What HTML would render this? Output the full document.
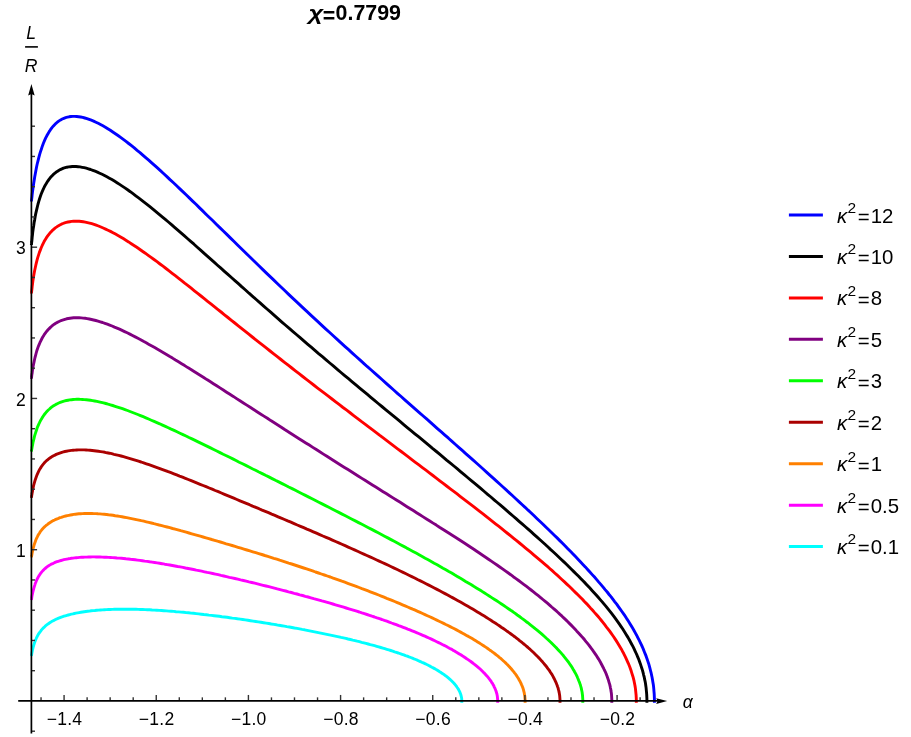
<!DOCTYPE html>
<html><head><meta charset="utf-8"><title>plot</title>
<style>
html,body{margin:0;padding:0;background:#fff;}
body{width:911px;height:737px;overflow:hidden;font-family:"Liberation Sans",sans-serif;}
svg{display:block;will-change:transform}
text{font-family:"Liberation Sans",sans-serif;fill:#000}
.tk{font-size:17.5px;letter-spacing:0.25px}
.lg{font-size:20.4px}
.it{font-style:italic}
</style></head><body>
<svg width="911" height="737" viewBox="0 0 911 737">
<rect width="911" height="737" fill="#fff"/>

<g fill="none" stroke-width="2.9" stroke-linecap="butt" stroke-linejoin="round">
<path d="M31.4,655.8 31.4,655.7 31.5,655.4 31.5,654.9 31.7,654.3 31.8,653.5 32.0,652.5 32.2,651.5 32.4,650.4 32.7,649.2 33.0,647.9 33.3,646.7 33.7,645.4 34.1,644.1 34.5,642.8 35.0,641.5 35.4,640.3 36.0,639.0 36.5,637.8 37.1,636.6 37.7,635.5 38.3,634.4 39.0,633.3 39.7,632.3 40.5,631.3 41.2,630.3 42.0,629.4 42.8,628.5 43.7,627.6 44.6,626.8 45.5,625.9 46.4,625.2 47.4,624.4 48.4,623.7 49.4,623.0 50.5,622.3 51.6,621.6 52.7,621.0 53.9,620.4 55.0,619.8 56.2,619.2 57.5,618.7 58.7,618.2 60.0,617.7 61.3,617.2 62.7,616.7 64.0,616.2 65.4,615.8 66.9,615.4 68.3,615.0 69.8,614.6 71.3,614.2 72.8,613.9 74.4,613.5 75.9,613.2 77.5,612.9 79.2,612.6 80.8,612.3 82.5,612.0 84.2,611.7 85.9,611.5 87.7,611.3 89.4,611.1 91.2,610.8 93.1,610.6 94.9,610.5 96.8,610.3 98.6,610.1 100.5,610.0 102.5,609.9 104.4,609.7 106.4,609.6 108.4,609.5 110.4,609.5 112.4,609.4 114.5,609.3 116.5,609.3 118.6,609.2 120.7,609.2 122.9,609.2 125.0,609.2 127.2,609.2 129.4,609.2 131.6,609.2 133.8,609.3 136.0,609.3 138.2,609.4 140.5,609.5 142.8,609.5 145.1,609.6 147.4,609.7 149.7,609.8 152.1,610.0 154.4,610.1 156.8,610.2 159.2,610.4 161.5,610.5 163.9,610.7 166.4,610.9 168.8,611.1 171.2,611.2 173.7,611.4 176.1,611.7 178.6,611.9 181.1,612.1 183.6,612.3 186.1,612.6 188.6,612.8 191.1,613.1 193.6,613.3 196.2,613.6 198.7,613.9 201.3,614.2 203.8,614.5 206.4,614.7 208.9,615.1 211.5,615.4 214.1,615.7 216.7,616.0 219.3,616.3 221.9,616.7 224.5,617.0 227.1,617.3 229.7,617.7 232.3,618.1 234.9,618.4 237.5,618.8 240.1,619.1 242.7,619.5 245.3,619.9 247.9,620.3 250.5,620.7 253.1,621.1 255.7,621.5 258.3,621.9 260.9,622.3 263.6,622.7 266.2,623.1 268.8,623.5 271.3,624.0 273.9,624.4 276.5,624.8 279.1,625.3 281.7,625.7 284.3,626.1 286.8,626.6 289.4,627.0 291.9,627.5 294.5,628.0 297.0,628.4 299.6,628.9 302.1,629.4 304.6,629.8 307.1,630.3 309.6,630.8 312.1,631.3 314.6,631.8 317.1,632.3 319.5,632.8 322.0,633.3 324.4,633.8 326.8,634.3 329.3,634.8 331.7,635.3 334.1,635.8 336.4,636.3 338.8,636.8 341.1,637.4 343.5,637.9 345.8,638.4 348.1,639.0 350.4,639.5 352.7,640.1 355.0,640.6 357.2,641.2 359.4,641.7 361.6,642.3 363.8,642.8 366.0,643.4 368.2,644.0 370.3,644.6 372.5,645.1 374.6,645.7 376.7,646.3 378.7,646.9 380.8,647.5 382.8,648.1 384.8,648.7 386.8,649.3 388.8,649.9 390.7,650.5 392.7,651.1 394.6,651.8 396.4,652.4 398.3,653.0 400.2,653.7 402.0,654.3 403.8,654.9 405.5,655.6 407.3,656.2 409.0,656.9 410.7,657.5 412.4,658.2 414.0,658.9 415.7,659.5 417.3,660.2 418.8,660.9 420.4,661.6 421.9,662.3 423.4,662.9 424.9,663.6 426.3,664.3 427.8,665.0 429.2,665.7 430.5,666.4 431.9,667.2 433.2,667.9 434.5,668.6 435.7,669.3 437.0,670.0 438.2,670.8 439.3,671.5 440.5,672.2 441.6,673.0 442.7,673.7 443.8,674.4 444.8,675.2 445.8,675.9 446.8,676.7 447.7,677.4 448.6,678.2 449.5,679.0 450.4,679.7 451.2,680.5 452.0,681.3 452.7,682.0 453.5,682.8 454.2,683.6 454.9,684.3 455.5,685.1 456.1,685.9 456.7,686.7 457.2,687.5 457.8,688.3 458.3,689.0 458.7,689.8 459.1,690.6 459.5,691.4 459.9,692.2 460.2,693.0 460.5,693.8 460.8,694.6 461.0,695.4 461.2,696.2 461.4,697.0 461.6,697.8 461.7,698.6 461.7,699.4 461.8,700.2 461.8,701.0 461.8,702.8" stroke="#00ffff"/>
<path d="M31.4,599.8 31.4,599.7 31.5,599.4 31.6,598.8 31.7,598.1 31.8,597.2 32.0,596.1 32.2,595.0 32.5,593.7 32.8,592.3 33.1,590.9 33.5,589.5 33.9,588.0 34.3,586.6 34.8,585.1 35.2,583.7 35.8,582.3 36.3,580.9 36.9,579.6 37.6,578.3 38.2,577.1 38.9,575.9 39.7,574.7 40.4,573.6 41.2,572.6 42.0,571.6 42.9,570.6 43.8,569.7 44.7,568.8 45.7,568.0 46.7,567.2 47.7,566.4 48.7,565.7 49.8,565.1 50.9,564.4 52.1,563.8 53.3,563.3 54.5,562.7 55.7,562.2 57.0,561.7 58.3,561.3 59.6,560.9 61.0,560.5 62.4,560.1 63.8,559.7 65.3,559.4 66.8,559.1 68.3,558.8 69.8,558.6 71.4,558.3 73.0,558.1 74.6,557.9 76.3,557.7 77.9,557.6 79.7,557.4 81.4,557.3 83.2,557.2 84.9,557.1 86.8,557.1 88.6,557.0 90.5,557.0 92.4,556.9 94.3,556.9 96.2,557.0 98.2,557.0 100.2,557.0 102.2,557.1 104.2,557.2 106.3,557.3 108.4,557.4 110.5,557.5 112.6,557.6 114.8,557.8 117.0,558.0 119.2,558.1 121.4,558.3 123.6,558.5 125.9,558.8 128.2,559.0 130.5,559.3 132.8,559.5 135.2,559.8 137.5,560.1 139.9,560.4 142.3,560.7 144.7,561.1 147.2,561.4 149.6,561.8 152.1,562.1 154.6,562.5 157.1,562.9 159.6,563.3 162.1,563.7 164.7,564.2 167.2,564.6 169.8,565.0 172.4,565.5 175.0,566.0 177.6,566.5 180.2,566.9 182.9,567.4 185.5,568.0 188.2,568.5 190.9,569.0 193.6,569.5 196.3,570.1 199.0,570.6 201.7,571.2 204.4,571.8 207.2,572.4 209.9,572.9 212.7,573.5 215.4,574.1 218.2,574.7 221.0,575.4 223.8,576.0 226.5,576.6 229.3,577.3 232.1,577.9 234.9,578.5 237.7,579.2 240.6,579.9 243.4,580.5 246.2,581.2 249.0,581.9 251.8,582.5 254.7,583.2 257.5,583.9 260.3,584.6 263.1,585.3 266.0,586.0 268.8,586.7 271.6,587.4 274.4,588.1 277.3,588.9 280.1,589.6 282.9,590.3 285.7,591.0 288.5,591.8 291.4,592.5 294.2,593.3 297.0,594.0 299.8,594.8 302.6,595.5 305.3,596.3 308.1,597.0 310.9,597.8 313.7,598.6 316.4,599.3 319.2,600.1 321.9,600.9 324.7,601.6 327.4,602.4 330.1,603.2 332.8,604.0 335.5,604.8 338.2,605.6 340.9,606.4 343.6,607.2 346.2,608.0 348.9,608.8 351.5,609.6 354.1,610.4 356.7,611.2 359.3,612.0 361.9,612.9 364.4,613.7 367.0,614.5 369.5,615.3 372.0,616.2 374.5,617.0 377.0,617.9 379.5,618.7 381.9,619.5 384.4,620.4 386.8,621.2 389.2,622.1 391.6,623.0 393.9,623.8 396.3,624.7 398.6,625.6 400.9,626.4 403.2,627.3 405.5,628.2 407.7,629.1 409.9,629.9 412.1,630.8 414.3,631.7 416.5,632.6 418.6,633.5 420.7,634.4 422.8,635.3 424.9,636.2 426.9,637.1 428.9,638.0 430.9,638.9 432.9,639.9 434.8,640.8 436.7,641.7 438.6,642.6 440.5,643.5 442.3,644.5 444.2,645.4 446.0,646.3 447.7,647.3 449.4,648.2 451.2,649.1 452.8,650.1 454.5,651.0 456.1,652.0 457.7,652.9 459.3,653.9 460.8,654.8 462.3,655.8 463.8,656.7 465.3,657.7 466.7,658.7 468.1,659.6 469.5,660.6 470.8,661.5 472.1,662.5 473.4,663.5 474.6,664.5 475.8,665.4 477.0,666.4 478.2,667.4 479.3,668.3 480.4,669.3 481.4,670.3 482.4,671.3 483.4,672.3 484.4,673.2 485.3,674.2 486.2,675.2 487.1,676.2 487.9,677.2 488.7,678.2 489.4,679.1 490.2,680.1 490.9,681.1 491.5,682.1 492.2,683.1 492.8,684.1 493.3,685.1 493.9,686.1 494.3,687.1 494.8,688.0 495.2,689.0 495.6,690.0 496.0,691.0 496.3,692.0 496.6,693.0 496.9,694.0 497.1,695.0 497.3,696.0 497.4,697.0 497.5,698.0 497.6,699.0 497.7,700.0 497.7,701.0 497.7,702.8" stroke="#ff00ff"/>
<path d="M31.4,557.3 31.4,557.2 31.5,556.8 31.6,556.3 31.7,555.5 31.9,554.6 32.1,553.5 32.3,552.3 32.6,551.0 32.9,549.6 33.2,548.2 33.6,546.8 34.0,545.3 34.5,543.8 35.0,542.4 35.5,541.0 36.0,539.6 36.6,538.2 37.3,536.9 37.9,535.6 38.6,534.4 39.4,533.2 40.1,532.0 40.9,530.9 41.8,529.8 42.7,528.8 43.6,527.8 44.5,526.9 45.5,526.0 46.5,525.1 47.6,524.3 48.6,523.5 49.8,522.7 50.9,522.0 52.1,521.3 53.3,520.6 54.6,520.0 55.8,519.4 57.2,518.8 58.5,518.3 59.9,517.7 61.3,517.3 62.7,516.8 64.2,516.4 65.7,516.0 67.3,515.6 68.8,515.3 70.4,515.0 72.1,514.7 73.7,514.4 75.4,514.2 77.1,514.0 78.9,513.8 80.7,513.7 82.5,513.6 84.3,513.5 86.2,513.5 88.1,513.4 90.0,513.5 92.0,513.5 93.9,513.6 95.9,513.6 98.0,513.8 100.0,513.9 102.1,514.1 104.2,514.3 106.4,514.5 108.5,514.8 110.7,515.0 112.9,515.3 115.2,515.7 117.4,516.0 119.7,516.4 122.0,516.8 124.3,517.2 126.7,517.6 129.1,518.1 131.5,518.6 133.9,519.1 136.3,519.6 138.8,520.1 141.3,520.7 143.8,521.2 146.3,521.8 148.8,522.4 151.4,523.0 154.0,523.7 156.6,524.3 159.2,525.0 161.8,525.6 164.5,526.3 167.1,527.0 169.8,527.7 172.5,528.5 175.2,529.2 177.9,529.9 180.7,530.7 183.4,531.4 186.2,532.2 189.0,533.0 191.8,533.8 194.6,534.6 197.4,535.4 200.3,536.2 203.1,537.0 206.0,537.8 208.8,538.6 211.7,539.5 214.6,540.3 217.5,541.2 220.4,542.0 223.3,542.9 226.2,543.8 229.2,544.6 232.1,545.5 235.1,546.4 238.0,547.3 241.0,548.2 243.9,549.1 246.9,550.0 249.9,550.9 252.8,551.8 255.8,552.7 258.8,553.6 261.8,554.5 264.8,555.5 267.8,556.4 270.8,557.3 273.8,558.3 276.8,559.2 279.7,560.2 282.7,561.1 285.7,562.1 288.7,563.1 291.7,564.0 294.7,565.0 297.7,566.0 300.7,567.0 303.7,568.0 306.6,568.9 309.6,569.9 312.6,570.9 315.5,572.0 318.5,573.0 321.4,574.0 324.4,575.0 327.3,576.0 330.3,577.0 333.2,578.1 336.1,579.1 339.0,580.1 341.9,581.2 344.8,582.2 347.7,583.3 350.5,584.3 353.4,585.4 356.2,586.4 359.1,587.5 361.9,588.6 364.7,589.6 367.5,590.7 370.3,591.8 373.1,592.9 375.8,593.9 378.6,595.0 381.3,596.1 384.0,597.2 386.7,598.3 389.4,599.3 392.0,600.4 394.7,601.5 397.3,602.6 399.9,603.7 402.5,604.8 405.1,605.9 407.7,607.0 410.2,608.1 412.7,609.2 415.2,610.2 417.7,611.3 420.2,612.4 422.6,613.5 425.0,614.6 427.4,615.7 429.8,616.8 432.2,617.9 434.5,619.0 436.8,620.1 439.1,621.2 441.3,622.3 443.6,623.4 445.8,624.5 448.0,625.5 450.1,626.6 452.3,627.7 454.4,628.8 456.5,629.9 458.5,631.0 460.6,632.1 462.6,633.2 464.5,634.3 466.5,635.4 468.4,636.4 470.3,637.5 472.2,638.6 474.0,639.7 475.8,640.8 477.6,641.9 479.4,643.0 481.1,644.1 482.8,645.2 484.4,646.3 486.1,647.4 487.7,648.5 489.2,649.6 490.8,650.7 492.3,651.8 493.8,652.9 495.2,654.0 496.6,655.1 498.0,656.2 499.3,657.3 500.7,658.4 501.9,659.5 503.2,660.7 504.4,661.8 505.6,662.9 506.7,664.0 507.9,665.1 508.9,666.3 510.0,667.4 511.0,668.5 512.0,669.7 512.9,670.8 513.8,671.9 514.7,673.1 515.6,674.2 516.4,675.4 517.1,676.5 517.9,677.7 518.6,678.8 519.2,680.0 519.9,681.1 520.5,682.3 521.0,683.4 521.5,684.6 522.0,685.7 522.5,686.9 522.9,688.1 523.3,689.2 523.6,690.4 523.9,691.6 524.2,692.7 524.4,693.9 524.6,695.1 524.8,696.3 524.9,697.4 525.0,698.6 525.1,699.8 525.1,701.0 525.1,702.8" stroke="#ff8000"/>
<path d="M31.4,497.7 31.4,497.6 31.5,497.2 31.6,496.5 31.7,495.6 31.9,494.5 32.1,493.2 32.4,491.8 32.6,490.2 33.0,488.6 33.3,486.9 33.7,485.1 34.2,483.4 34.7,481.6 35.2,479.9 35.8,478.2 36.4,476.5 37.0,474.9 37.7,473.3 38.4,471.8 39.1,470.4 39.9,469.0 40.8,467.6 41.6,466.3 42.5,465.1 43.5,463.9 44.4,462.8 45.4,461.7 46.5,460.7 47.6,459.8 48.7,458.9 49.9,458.0 51.1,457.2 52.3,456.4 53.6,455.7 54.9,455.1 56.2,454.4 57.6,453.8 59.0,453.3 60.4,452.8 61.9,452.3 63.4,451.9 65.0,451.5 66.5,451.2 68.2,450.9 69.8,450.6 71.5,450.4 73.2,450.2 74.9,450.1 76.7,450.0 78.5,449.9 80.4,449.9 82.3,449.9 84.2,449.9 86.1,450.0 88.1,450.1 90.1,450.3 92.1,450.5 94.2,450.7 96.2,451.0 98.4,451.3 100.5,451.6 102.7,451.9 104.9,452.3 107.1,452.8 109.4,453.2 111.7,453.7 114.0,454.3 116.3,454.8 118.7,455.4 121.1,456.0 123.5,456.7 125.9,457.4 128.4,458.1 130.9,458.8 133.4,459.6 136.0,460.4 138.5,461.2 141.1,462.0 143.7,462.9 146.4,463.8 149.0,464.7 151.7,465.6 154.4,466.6 157.1,467.6 159.9,468.6 162.6,469.6 165.4,470.6 168.2,471.7 171.0,472.7 173.9,473.8 176.7,474.9 179.6,476.1 182.5,477.2 185.4,478.3 188.3,479.5 191.2,480.7 194.2,481.9 197.2,483.1 200.1,484.3 203.1,485.5 206.1,486.7 209.2,488.0 212.2,489.2 215.2,490.5 218.3,491.7 221.4,493.0 224.5,494.3 227.6,495.6 230.7,496.9 233.8,498.2 236.9,499.5 240.0,500.8 243.2,502.1 246.3,503.4 249.5,504.7 252.6,506.1 255.8,507.4 259.0,508.7 262.1,510.1 265.3,511.4 268.5,512.7 271.7,514.1 274.9,515.4 278.1,516.8 281.3,518.2 284.5,519.5 287.7,520.9 290.9,522.2 294.1,523.6 297.3,525.0 300.5,526.3 303.7,527.7 306.9,529.1 310.1,530.4 313.3,531.8 316.5,533.2 319.7,534.6 322.9,536.0 326.1,537.3 329.3,538.7 332.4,540.1 335.6,541.5 338.8,542.9 341.9,544.3 345.1,545.7 348.2,547.1 351.4,548.5 354.5,549.9 357.6,551.3 360.7,552.7 363.8,554.1 366.9,555.5 370.0,556.9 373.1,558.3 376.2,559.7 379.2,561.1 382.2,562.5 385.3,563.9 388.3,565.3 391.3,566.7 394.2,568.1 397.2,569.5 400.2,571.0 403.1,572.4 406.0,573.8 408.9,575.2 411.8,576.6 414.7,578.0 417.5,579.5 420.4,580.9 423.2,582.3 426.0,583.7 428.8,585.1 431.5,586.5 434.3,588.0 437.0,589.4 439.7,590.8 442.4,592.2 445.0,593.6 447.7,595.0 450.3,596.5 452.9,597.9 455.4,599.3 458.0,600.7 460.5,602.1 463.0,603.5 465.5,604.9 467.9,606.3 470.3,607.7 472.7,609.1 475.1,610.5 477.4,611.9 479.7,613.3 482.0,614.7 484.3,616.1 486.5,617.5 488.7,618.9 490.9,620.3 493.0,621.7 495.2,623.0 497.2,624.4 499.3,625.8 501.3,627.2 503.3,628.5 505.3,629.9 507.2,631.3 509.1,632.6 511.0,634.0 512.9,635.4 514.7,636.7 516.5,638.1 518.2,639.4 519.9,640.8 521.6,642.1 523.2,643.5 524.9,644.8 526.4,646.2 528.0,647.5 529.5,648.8 531.0,650.2 532.4,651.5 533.8,652.8 535.2,654.2 536.5,655.5 537.8,656.8 539.1,658.1 540.3,659.4 541.5,660.8 542.7,662.1 543.8,663.4 544.9,664.7 546.0,666.0 547.0,667.3 547.9,668.6 548.9,669.9 549.8,671.2 550.6,672.5 551.5,673.8 552.3,675.1 553.0,676.4 553.7,677.7 554.4,679.0 555.0,680.3 555.6,681.6 556.2,682.9 556.7,684.2 557.2,685.5 557.6,686.8 558.1,688.1 558.4,689.4 558.8,690.7 559.0,691.9 559.3,693.2 559.5,694.5 559.7,695.8 559.8,697.1 559.9,698.4 560.0,699.7 560.0,701.0 560.0,702.8" stroke="#aa0000"/>
<path d="M31.4,451.6 31.4,451.5 31.5,451.1 31.6,450.4 31.7,449.6 31.9,448.5 32.1,447.2 32.4,445.7 32.7,444.2 33.0,442.5 33.4,440.8 33.9,438.9 34.3,437.1 34.8,435.2 35.4,433.4 36.0,431.5 36.6,429.7 37.2,427.8 37.9,426.1 38.7,424.3 39.5,422.7 40.3,421.0 41.2,419.4 42.1,417.9 43.0,416.5 44.0,415.0 45.0,413.7 46.1,412.4 47.1,411.2 48.3,410.0 49.5,409.0 50.7,407.9 51.9,406.9 53.2,406.0 54.5,405.2 55.9,404.4 57.3,403.7 58.7,403.0 60.2,402.4 61.7,401.8 63.2,401.3 64.8,400.9 66.4,400.5 68.1,400.2 69.7,399.9 71.5,399.7 73.2,399.5 75.0,399.4 76.8,399.3 78.7,399.3 80.6,399.4 82.5,399.5 84.4,399.6 86.4,399.8 88.5,400.0 90.5,400.3 92.6,400.6 94.7,401.0 96.9,401.4 99.0,401.9 101.2,402.4 103.5,402.9 105.8,403.5 108.1,404.2 110.4,404.8 112.7,405.5 115.1,406.3 117.5,407.1 120.0,407.9 122.5,408.7 125.0,409.6 127.5,410.5 130.0,411.5 132.6,412.5 135.2,413.5 137.8,414.5 140.5,415.6 143.2,416.7 145.9,417.8 148.6,419.0 151.3,420.2 154.1,421.4 156.9,422.6 159.7,423.8 162.5,425.1 165.4,426.4 168.3,427.7 171.2,429.1 174.1,430.4 177.0,431.8 180.0,433.2 183.0,434.6 186.0,436.0 189.0,437.5 192.0,438.9 195.1,440.4 198.1,441.9 201.2,443.4 204.3,444.9 207.4,446.4 210.5,447.9 213.7,449.5 216.8,451.0 220.0,452.6 223.2,454.2 226.4,455.7 229.6,457.3 232.8,458.9 236.0,460.5 239.2,462.2 242.5,463.8 245.8,465.4 249.0,467.0 252.3,468.7 255.6,470.3 258.9,472.0 262.2,473.6 265.5,475.3 268.8,476.9 272.1,478.6 275.4,480.3 278.7,481.9 282.1,483.6 285.4,485.3 288.7,487.0 292.1,488.6 295.4,490.3 298.7,492.0 302.1,493.7 305.4,495.4 308.8,497.1 312.1,498.8 315.5,500.5 318.8,502.2 322.1,503.9 325.5,505.6 328.8,507.3 332.1,509.0 335.5,510.7 338.8,512.4 342.1,514.1 345.4,515.8 348.7,517.5 352.0,519.2 355.3,520.9 358.6,522.6 361.9,524.3 365.2,526.0 368.4,527.7 371.7,529.4 375.0,531.1 378.2,532.8 381.4,534.5 384.6,536.2 387.8,537.9 391.0,539.6 394.2,541.3 397.4,543.0 400.5,544.7 403.7,546.4 406.8,548.1 409.9,549.7 413.0,551.4 416.1,553.1 419.1,554.8 422.2,556.5 425.2,558.2 428.2,559.8 431.2,561.5 434.2,563.2 437.2,564.8 440.1,566.5 443.0,568.2 445.9,569.8 448.8,571.5 451.7,573.1 454.5,574.8 457.3,576.4 460.1,578.1 462.9,579.7 465.6,581.4 468.3,583.0 471.0,584.6 473.7,586.3 476.4,587.9 479.0,589.5 481.6,591.1 484.2,592.8 486.7,594.4 489.2,596.0 491.7,597.6 494.2,599.2 496.7,600.8 499.1,602.4 501.5,604.0 503.8,605.5 506.1,607.1 508.4,608.7 510.7,610.3 513.0,611.8 515.2,613.4 517.3,615.0 519.5,616.5 521.6,618.1 523.7,619.6 525.7,621.2 527.8,622.7 529.8,624.3 531.7,625.8 533.6,627.3 535.5,628.9 537.4,630.4 539.2,631.9 541.0,633.4 542.7,634.9 544.5,636.5 546.1,638.0 547.8,639.5 549.4,641.0 551.0,642.5 552.5,644.0 554.0,645.5 555.5,647.0 556.9,648.4 558.3,649.9 559.7,651.4 561.0,652.9 562.3,654.4 563.5,655.8 564.7,657.3 565.9,658.8 567.1,660.3 568.1,661.7 569.2,663.2 570.2,664.7 571.2,666.1 572.1,667.6 573.0,669.1 573.9,670.5 574.7,672.0 575.5,673.4 576.3,674.9 577.0,676.3 577.6,677.8 578.2,679.2 578.8,680.7 579.4,682.1 579.9,683.6 580.4,685.0 580.8,686.5 581.2,687.9 581.5,689.4 581.8,690.8 582.1,692.3 582.3,693.7 582.5,695.2 582.6,696.6 582.7,698.1 582.8,699.5 582.8,701.0 582.8,702.8" stroke="#00ff00"/>
<path d="M31.4,378.7 31.4,378.5 31.5,378.0 31.6,377.1 31.7,375.9 31.9,374.4 32.2,372.7 32.4,370.8 32.8,368.8 33.1,366.6 33.5,364.4 34.0,362.1 34.5,359.8 35.0,357.5 35.6,355.3 36.2,353.0 36.8,350.8 37.5,348.7 38.3,346.6 39.1,344.6 39.9,342.7 40.8,340.8 41.7,339.0 42.6,337.3 43.6,335.7 44.6,334.1 45.7,332.6 46.8,331.2 48.0,329.8 49.2,328.6 50.4,327.4 51.7,326.2 53.0,325.2 54.3,324.2 55.7,323.3 57.2,322.4 58.6,321.7 60.1,321.0 61.7,320.3 63.3,319.8 64.9,319.3 66.6,318.8 68.3,318.5 70.0,318.2 71.8,318.0 73.6,317.8 75.4,317.8 77.3,317.7 79.2,317.8 81.2,317.9 83.2,318.1 85.2,318.3 87.2,318.6 89.3,319.0 91.5,319.5 93.6,320.0 95.8,320.5 98.0,321.1 100.3,321.8 102.6,322.5 104.9,323.3 107.3,324.2 109.7,325.1 112.1,326.0 114.5,327.1 117.0,328.1 119.5,329.2 122.1,330.4 124.6,331.6 127.2,332.8 129.9,334.1 132.5,335.5 135.2,336.9 137.9,338.3 140.7,339.7 143.4,341.3 146.2,342.8 149.0,344.4 151.9,346.0 154.7,347.6 157.6,349.3 160.6,351.0 163.5,352.7 166.5,354.5 169.4,356.3 172.5,358.1 175.5,360.0 178.5,361.8 181.6,363.7 184.7,365.6 187.8,367.6 191.0,369.5 194.1,371.5 197.3,373.5 200.5,375.5 203.7,377.5 206.9,379.6 210.1,381.6 213.4,383.7 216.7,385.8 220.0,387.9 223.3,390.0 226.6,392.2 229.9,394.3 233.3,396.4 236.6,398.6 240.0,400.8 243.4,402.9 246.8,405.1 250.2,407.3 253.6,409.5 257.0,411.7 260.5,413.9 263.9,416.1 267.4,418.3 270.8,420.6 274.3,422.8 277.8,425.0 281.3,427.2 284.7,429.5 288.2,431.7 291.7,434.0 295.2,436.2 298.7,438.4 302.3,440.7 305.8,442.9 309.3,445.1 312.8,447.4 316.3,449.6 319.8,451.8 323.4,454.1 326.9,456.3 330.4,458.5 333.9,460.8 337.4,463.0 340.9,465.2 344.5,467.4 348.0,469.6 351.5,471.8 355.0,474.0 358.5,476.2 361.9,478.4 365.4,480.6 368.9,482.8 372.4,485.0 375.8,487.1 379.3,489.3 382.7,491.4 386.2,493.6 389.6,495.7 393.0,497.9 396.4,500.0 399.8,502.1 403.2,504.3 406.6,506.4 409.9,508.5 413.3,510.6 416.6,512.7 419.9,514.8 423.2,516.9 426.5,518.9 429.8,521.0 433.1,523.1 436.3,525.1 439.5,527.2 442.7,529.2 445.9,531.2 449.1,533.3 452.2,535.3 455.4,537.3 458.5,539.3 461.6,541.3 464.7,543.3 467.7,545.3 470.7,547.3 473.8,549.3 476.7,551.3 479.7,553.3 482.6,555.2 485.6,557.2 488.5,559.2 491.3,561.1 494.2,563.1 497.0,565.0 499.8,567.0 502.5,568.9 505.3,570.9 508.0,572.8 510.7,574.7 513.3,576.7 516.0,578.6 518.6,580.5 521.1,582.4 523.7,584.3 526.2,586.2 528.7,588.1 531.1,590.0 533.5,591.9 535.9,593.8 538.3,595.7 540.6,597.6 542.9,599.5 545.2,601.4 547.4,603.2 549.6,605.1 551.7,607.0 553.9,608.8 556.0,610.7 558.0,612.5 560.0,614.4 562.0,616.2 564.0,618.1 565.9,619.9 567.8,621.8 569.6,623.6 571.4,625.4 573.2,627.2 574.9,629.0 576.6,630.9 578.3,632.7 579.9,634.5 581.5,636.3 583.1,638.0 584.6,639.8 586.0,641.6 587.5,643.4 588.9,645.1 590.2,646.9 591.5,648.7 592.8,650.4 594.0,652.2 595.2,653.9 596.4,655.6 597.5,657.4 598.6,659.1 599.6,660.8 600.6,662.5 601.5,664.3 602.4,666.0 603.3,667.7 604.1,669.4 604.9,671.0 605.7,672.7 606.4,674.4 607.0,676.1 607.6,677.8 608.2,679.4 608.7,681.1 609.2,682.8 609.7,684.4 610.1,686.1 610.4,687.8 610.8,689.4 611.0,691.1 611.3,692.7 611.5,694.4 611.6,696.0 611.7,697.7 611.8,699.3 611.8,701.0 611.8,702.8" stroke="#800080"/>
<path d="M31.4,293.4 31.4,293.2 31.5,292.5 31.6,291.5 31.8,290.1 32.0,288.3 32.2,286.3 32.5,284.0 32.8,281.5 33.2,279.0 33.6,276.3 34.1,273.5 34.6,270.8 35.2,268.0 35.8,265.3 36.4,262.6 37.1,259.9 37.8,257.4 38.6,254.9 39.4,252.4 40.3,250.1 41.2,247.8 42.1,245.7 43.1,243.6 44.1,241.6 45.2,239.7 46.3,237.9 47.5,236.2 48.7,234.6 49.9,233.1 51.2,231.7 52.5,230.3 53.9,229.1 55.3,227.9 56.8,226.9 58.2,225.9 59.8,225.0 61.4,224.2 63.0,223.5 64.6,222.9 66.3,222.4 68.0,222.0 69.8,221.7 71.6,221.4 73.5,221.2 75.3,221.2 77.3,221.2 79.2,221.3 81.2,221.5 83.3,221.8 85.3,222.1 87.4,222.6 89.6,223.1 91.8,223.7 94.0,224.4 96.2,225.2 98.5,226.0 100.9,227.0 103.2,228.0 105.6,229.1 108.0,230.2 110.5,231.4 113.0,232.7 115.5,234.1 118.0,235.5 120.6,237.0 123.3,238.6 125.9,240.2 128.6,241.9 131.3,243.7 134.0,245.5 136.8,247.3 139.6,249.2 142.4,251.2 145.3,253.2 148.2,255.3 151.1,257.4 154.0,259.5 157.0,261.7 160.0,264.0 163.0,266.2 166.0,268.5 169.1,270.9 172.2,273.3 175.3,275.7 178.4,278.1 181.6,280.6 184.7,283.1 188.0,285.6 191.2,288.2 194.4,290.8 197.7,293.4 201.0,296.0 204.3,298.6 207.6,301.3 210.9,303.9 214.3,306.6 217.7,309.3 221.1,312.0 224.5,314.8 227.9,317.5 231.4,320.3 234.8,323.0 238.3,325.8 241.8,328.6 245.3,331.4 248.8,334.2 252.3,337.0 255.9,339.8 259.4,342.6 263.0,345.4 266.5,348.2 270.1,351.0 273.7,353.9 277.3,356.7 280.9,359.5 284.5,362.3 288.2,365.2 291.8,368.0 295.4,370.8 299.1,373.7 302.7,376.5 306.4,379.3 310.0,382.1 313.7,385.0 317.3,387.8 321.0,390.6 324.7,393.4 328.3,396.2 332.0,399.0 335.7,401.9 339.4,404.7 343.0,407.5 346.7,410.2 350.4,413.0 354.0,415.8 357.7,418.6 361.3,421.4 365.0,424.1 368.6,426.9 372.3,429.7 375.9,432.4 379.5,435.2 383.2,437.9 386.8,440.6 390.4,443.4 394.0,446.1 397.6,448.8 401.2,451.5 404.7,454.2 408.3,456.9 411.8,459.6 415.4,462.3 418.9,464.9 422.4,467.6 425.9,470.2 429.4,472.9 432.9,475.5 436.3,478.1 439.8,480.8 443.2,483.4 446.6,486.0 450.0,488.6 453.4,491.1 456.8,493.7 460.1,496.3 463.4,498.8 466.7,501.4 470.0,503.9 473.3,506.4 476.5,508.9 479.7,511.4 483.0,513.9 486.1,516.4 489.3,518.9 492.4,521.3 495.5,523.8 498.6,526.2 501.7,528.7 504.7,531.1 507.7,533.5 510.7,535.9 513.7,538.3 516.6,540.7 519.5,543.0 522.4,545.4 525.3,547.8 528.1,550.1 530.9,552.4 533.7,554.8 536.4,557.1 539.1,559.4 541.8,561.7 544.4,563.9 547.1,566.2 549.7,568.5 552.2,570.7 554.7,573.0 557.2,575.2 559.7,577.5 562.1,579.7 564.5,581.9 566.8,584.1 569.2,586.3 571.5,588.5 573.7,590.7 575.9,592.9 578.1,595.0 580.3,597.2 582.4,599.3 584.4,601.5 586.5,603.6 588.5,605.8 590.4,607.9 592.4,610.0 594.2,612.1 596.1,614.2 597.9,616.3 599.7,618.4 601.4,620.5 603.1,622.6 604.7,624.7 606.3,626.8 607.9,628.8 609.5,630.9 610.9,632.9 612.4,635.0 613.8,637.0 615.2,639.1 616.5,641.1 617.8,643.2 619.0,645.2 620.2,647.2 621.4,649.2 622.5,651.3 623.6,653.3 624.6,655.3 625.6,657.3 626.5,659.3 627.4,661.3 628.3,663.3 629.1,665.3 629.9,667.3 630.6,669.3 631.3,671.3 631.9,673.3 632.5,675.2 633.1,677.2 633.6,679.2 634.1,681.2 634.5,683.2 634.9,685.2 635.2,687.1 635.5,689.1 635.7,691.1 635.9,693.1 636.1,695.0 636.2,697.0 636.3,699.0 636.3,701.0 636.3,702.8" stroke="#ff0000"/>
<path d="M31.4,245.0 31.4,244.8 31.5,244.0 31.6,242.9 31.8,241.3 32.0,239.3 32.2,237.0 32.5,234.5 32.8,231.7 33.2,228.8 33.7,225.8 34.1,222.7 34.7,219.6 35.2,216.5 35.8,213.4 36.5,210.4 37.2,207.4 37.9,204.5 38.7,201.7 39.5,199.0 40.4,196.3 41.3,193.8 42.3,191.4 43.3,189.2 44.3,187.0 45.4,184.9 46.6,183.0 47.8,181.1 49.0,179.4 50.2,177.8 51.6,176.3 52.9,174.9 54.3,173.7 55.7,172.5 57.2,171.4 58.7,170.5 60.3,169.6 61.9,168.9 63.5,168.2 65.2,167.7 66.9,167.2 68.7,166.9 70.5,166.7 72.3,166.5 74.2,166.5 76.1,166.5 78.1,166.7 80.1,166.9 82.1,167.3 84.2,167.7 86.3,168.2 88.4,168.8 90.6,169.5 92.8,170.3 95.1,171.2 97.4,172.1 99.7,173.2 102.1,174.3 104.5,175.5 106.9,176.8 109.4,178.2 111.9,179.6 114.4,181.1 117.0,182.7 119.6,184.4 122.2,186.1 124.9,187.9 127.6,189.8 130.3,191.7 133.0,193.7 135.8,195.8 138.6,197.9 141.5,200.1 144.4,202.3 147.3,204.6 150.2,206.9 153.2,209.3 156.2,211.8 159.2,214.3 162.2,216.8 165.3,219.4 168.4,222.0 171.5,224.7 174.6,227.4 177.8,230.1 181.0,232.9 184.2,235.7 187.4,238.5 190.7,241.4 194.0,244.2 197.3,247.2 200.6,250.1 203.9,253.1 207.3,256.1 210.7,259.1 214.1,262.1 217.5,265.2 220.9,268.2 224.4,271.3 227.9,274.4 231.4,277.5 234.9,280.6 238.4,283.7 241.9,286.9 245.5,290.0 249.0,293.2 252.6,296.3 256.2,299.5 259.8,302.7 263.4,305.9 267.0,309.0 270.7,312.2 274.3,315.4 278.0,318.6 281.6,321.8 285.3,325.0 289.0,328.2 292.7,331.3 296.4,334.5 300.1,337.7 303.8,340.9 307.5,344.1 311.2,347.2 314.9,350.4 318.6,353.6 322.4,356.7 326.1,359.9 329.8,363.0 333.6,366.2 337.3,369.3 341.0,372.5 344.7,375.6 348.5,378.7 352.2,381.8 355.9,384.9 359.7,388.1 363.4,391.2 367.1,394.2 370.8,397.3 374.5,400.4 378.2,403.5 381.9,406.5 385.6,409.6 389.3,412.6 393.0,415.7 396.7,418.7 400.3,421.7 404.0,424.8 407.6,427.8 411.3,430.8 414.9,433.8 418.5,436.7 422.1,439.7 425.7,442.7 429.3,445.6 432.8,448.6 436.4,451.5 439.9,454.4 443.4,457.3 446.9,460.3 450.4,463.1 453.9,466.0 457.4,468.9 460.8,471.8 464.2,474.6 467.6,477.5 471.0,480.3 474.4,483.1 477.7,485.9 481.0,488.7 484.3,491.5 487.6,494.3 490.9,497.0 494.1,499.8 497.3,502.5 500.5,505.2 503.7,507.9 506.8,510.6 509.9,513.3 513.0,516.0 516.1,518.6 519.1,521.3 522.1,523.9 525.1,526.5 528.1,529.2 531.0,531.7 533.9,534.3 536.8,536.9 539.7,539.5 542.5,542.0 545.3,544.5 548.0,547.0 550.7,549.6 553.4,552.0 556.1,554.5 558.7,557.0 561.3,559.5 563.9,561.9 566.4,564.3 568.9,566.8 571.4,569.2 573.8,571.6 576.2,574.0 578.6,576.3 580.9,578.7 583.2,581.1 585.5,583.4 587.7,585.8 589.9,588.1 592.0,590.4 594.1,592.7 596.2,595.0 598.2,597.3 600.2,599.6 602.2,601.9 604.1,604.2 606.0,606.4 607.8,608.7 609.6,610.9 611.4,613.2 613.1,615.4 614.8,617.7 616.4,619.9 618.0,622.1 619.6,624.4 621.1,626.6 622.6,628.8 624.0,631.0 625.4,633.2 626.7,635.4 628.1,637.6 629.3,639.8 630.5,642.0 631.7,644.2 632.9,646.4 634.0,648.6 635.0,650.8 636.0,653.0 637.0,655.2 637.9,657.4 638.8,659.5 639.6,661.7 640.4,663.9 641.1,666.1 641.8,668.3 642.5,670.4 643.1,672.6 643.6,674.8 644.2,677.0 644.6,679.2 645.1,681.3 645.5,683.5 645.8,685.7 646.1,687.9 646.3,690.1 646.5,692.2 646.7,694.4 646.8,696.6 646.9,698.8 646.9,701.0 646.9,702.8" stroke="#000000"/>
<path d="M31.4,201.4 31.4,201.2 31.5,200.6 31.6,199.5 31.8,198.1 32.0,196.3 32.2,194.2 32.5,191.8 32.9,189.1 33.3,186.3 33.7,183.3 34.2,180.2 34.7,177.0 35.3,173.8 35.9,170.5 36.5,167.3 37.2,164.0 38.0,160.8 38.8,157.6 39.6,154.6 40.5,151.6 41.5,148.7 42.4,145.9 43.4,143.2 44.5,140.6 45.6,138.2 46.8,135.8 48.0,133.7 49.2,131.6 50.5,129.7 51.8,127.9 53.2,126.2 54.6,124.7 56.0,123.3 57.5,122.0 59.1,120.9 60.6,119.9 62.2,119.0 63.9,118.3 65.6,117.7 67.4,117.2 69.1,116.8 71.0,116.5 72.8,116.4 74.7,116.4 76.7,116.5 78.6,116.7 80.7,117.0 82.7,117.4 84.8,118.0 87.0,118.6 89.1,119.4 91.3,120.2 93.6,121.1 95.9,122.2 98.2,123.3 100.5,124.5 102.9,125.8 105.4,127.2 107.8,128.7 110.3,130.3 112.8,132.0 115.4,133.7 118.0,135.5 120.6,137.4 123.3,139.4 126.0,141.4 128.7,143.5 131.5,145.7 134.3,147.9 137.1,150.3 140.0,152.6 142.8,155.1 145.7,157.6 148.7,160.1 151.7,162.8 154.6,165.4 157.7,168.2 160.7,170.9 163.8,173.8 166.9,176.6 170.0,179.6 173.2,182.5 176.4,185.5 179.6,188.6 182.8,191.6 186.1,194.8 189.3,197.9 192.6,201.1 196.0,204.3 199.3,207.6 202.7,210.9 206.0,214.2 209.4,217.5 212.9,220.8 216.3,224.2 219.8,227.6 223.3,231.0 226.8,234.4 230.3,237.9 233.8,241.3 237.3,244.8 240.9,248.3 244.5,251.8 248.1,255.3 251.7,258.8 255.3,262.3 258.9,265.8 262.6,269.4 266.2,272.9 269.9,276.4 273.6,279.9 277.3,283.5 281.0,287.0 284.7,290.5 288.4,294.1 292.1,297.6 295.9,301.1 299.6,304.6 303.3,308.1 307.1,311.6 310.8,315.1 314.6,318.6 318.4,322.1 322.1,325.6 325.9,329.1 329.7,332.5 333.5,336.0 337.2,339.4 341.0,342.9 344.8,346.3 348.6,349.7 352.3,353.1 356.1,356.5 359.9,359.9 363.7,363.3 367.4,366.7 371.2,370.0 375.0,373.4 378.7,376.7 382.5,380.0 386.2,383.4 389.9,386.7 393.7,390.0 397.4,393.3 401.1,396.5 404.8,399.8 408.5,403.1 412.2,406.3 415.9,409.6 419.6,412.8 423.2,416.0 426.9,419.2 430.5,422.4 434.1,425.6 437.7,428.8 441.3,431.9 444.9,435.1 448.5,438.2 452.0,441.4 455.5,444.5 459.0,447.6 462.5,450.7 466.0,453.8 469.5,456.9 472.9,459.9 476.4,463.0 479.8,466.0 483.1,469.0 486.5,472.1 489.8,475.1 493.2,478.1 496.5,481.1 499.7,484.0 503.0,487.0 506.2,489.9 509.4,492.9 512.6,495.8 515.8,498.7 518.9,501.6 522.0,504.5 525.1,507.3 528.1,510.2 531.2,513.0 534.1,515.8 537.1,518.7 540.1,521.5 543.0,524.2 545.8,527.0 548.7,529.8 551.5,532.5 554.3,535.2 557.1,537.9 559.8,540.6 562.5,543.3 565.2,546.0 567.8,548.7 570.4,551.3 573.0,554.0 575.5,556.6 578.0,559.2 580.4,561.8 582.9,564.4 585.3,566.9 587.6,569.5 589.9,572.0 592.2,574.6 594.5,577.1 596.7,579.6 598.8,582.1 601.0,584.6 603.1,587.1 605.1,589.6 607.2,592.0 609.1,594.5 611.1,596.9 613.0,599.4 614.8,601.8 616.7,604.2 618.4,606.6 620.2,609.1 621.9,611.5 623.6,613.9 625.2,616.2 626.7,618.6 628.3,621.0 629.8,623.4 631.2,625.8 632.6,628.1 634.0,630.5 635.3,632.9 636.6,635.2 637.8,637.6 639.0,639.9 640.2,642.3 641.3,644.7 642.4,647.0 643.4,649.4 644.3,651.7 645.3,654.1 646.2,656.4 647.0,658.7 647.8,661.1 648.6,663.4 649.3,665.8 649.9,668.1 650.5,670.5 651.1,672.8 651.6,675.2 652.1,677.5 652.5,679.8 652.9,682.2 653.3,684.5 653.6,686.9 653.8,689.2 654.0,691.6 654.2,693.9 654.3,696.3 654.4,698.6 654.4,701.0 654.4,702.8" stroke="#0000ff"/>
</g>
<g stroke="#333" stroke-width="1.4" fill="none"><line x1="41.04" y1="700.95" x2="41.04" y2="697.35"/><line x1="64.08" y1="700.95" x2="64.08" y2="694.95"/><line x1="87.12" y1="700.95" x2="87.12" y2="697.35"/><line x1="110.16" y1="700.95" x2="110.16" y2="697.35"/><line x1="133.20" y1="700.95" x2="133.20" y2="697.35"/><line x1="156.25" y1="700.95" x2="156.25" y2="694.95"/><line x1="179.29" y1="700.95" x2="179.29" y2="697.35"/><line x1="202.33" y1="700.95" x2="202.33" y2="697.35"/><line x1="225.37" y1="700.95" x2="225.37" y2="697.35"/><line x1="248.41" y1="700.95" x2="248.41" y2="694.95"/><line x1="271.45" y1="700.95" x2="271.45" y2="697.35"/><line x1="294.49" y1="700.95" x2="294.49" y2="697.35"/><line x1="317.54" y1="700.95" x2="317.54" y2="697.35"/><line x1="340.58" y1="700.95" x2="340.58" y2="694.95"/><line x1="363.62" y1="700.95" x2="363.62" y2="697.35"/><line x1="386.66" y1="700.95" x2="386.66" y2="697.35"/><line x1="409.70" y1="700.95" x2="409.70" y2="697.35"/><line x1="432.74" y1="700.95" x2="432.74" y2="694.95"/><line x1="455.79" y1="700.95" x2="455.79" y2="697.35"/><line x1="478.83" y1="700.95" x2="478.83" y2="697.35"/><line x1="501.87" y1="700.95" x2="501.87" y2="697.35"/><line x1="524.91" y1="700.95" x2="524.91" y2="694.95"/><line x1="547.95" y1="700.95" x2="547.95" y2="697.35"/><line x1="570.99" y1="700.95" x2="570.99" y2="697.35"/><line x1="594.03" y1="700.95" x2="594.03" y2="697.35"/><line x1="617.08" y1="700.95" x2="617.08" y2="694.95"/><line x1="640.12" y1="700.95" x2="640.12" y2="697.35"/><line x1="31.40" y1="731.20" x2="35.00" y2="731.20"/><line x1="31.40" y1="670.70" x2="35.00" y2="670.70"/><line x1="31.40" y1="640.45" x2="35.00" y2="640.45"/><line x1="31.40" y1="610.20" x2="35.00" y2="610.20"/><line x1="31.40" y1="579.95" x2="35.00" y2="579.95"/><line x1="31.40" y1="549.70" x2="37.10" y2="549.70"/><line x1="31.40" y1="519.45" x2="35.00" y2="519.45"/><line x1="31.40" y1="489.20" x2="35.00" y2="489.20"/><line x1="31.40" y1="458.95" x2="35.00" y2="458.95"/><line x1="31.40" y1="428.70" x2="35.00" y2="428.70"/><line x1="31.40" y1="398.45" x2="37.10" y2="398.45"/><line x1="31.40" y1="368.20" x2="35.00" y2="368.20"/><line x1="31.40" y1="337.95" x2="35.00" y2="337.95"/><line x1="31.40" y1="307.70" x2="35.00" y2="307.70"/><line x1="31.40" y1="277.45" x2="35.00" y2="277.45"/><line x1="31.40" y1="247.20" x2="37.10" y2="247.20"/><line x1="31.40" y1="216.95" x2="35.00" y2="216.95"/><line x1="31.40" y1="186.70" x2="35.00" y2="186.70"/><line x1="31.40" y1="156.45" x2="35.00" y2="156.45"/><line x1="31.40" y1="126.20" x2="35.00" y2="126.20"/></g>
<g stroke="#000" stroke-width="1.7" fill="none">
<line x1="18.2" y1="700.95" x2="660" y2="700.95"/>
<line x1="31.40" y1="733.5" x2="31.40" y2="92"/>
</g>
<path d="M667.2,701.05 L656.2,698.15 L657.6,701.05 L656.2,703.95 Z" fill="#000"/>
<path d="M31.40,83.9 L28.15,95.4 L31.40,94.0 L34.65,95.4 Z" fill="#000"/>
<g id="txt">
<text class="tk" x="64.5" y="724.9" text-anchor="middle">−1.4</text>
<text class="tk" x="156.6" y="724.9" text-anchor="middle">−1.2</text>
<text class="tk" x="248.8" y="724.9" text-anchor="middle">−1.0</text>
<text class="tk" x="341.0" y="724.9" text-anchor="middle">−0.8</text>
<text class="tk" x="433.1" y="724.9" text-anchor="middle">−0.6</text>
<text class="tk" x="525.3" y="724.9" text-anchor="middle">−0.4</text>
<text class="tk" x="617.5" y="724.9" text-anchor="middle">−0.2</text>
<text class="tk" x="26.1" y="556.7" text-anchor="end">1</text>
<text class="tk" x="26.1" y="405.5" text-anchor="end">2</text>
<text class="tk" x="26.1" y="254.2" text-anchor="end">3</text>
<text class="tk it" x="682.7" y="708">α</text>
<text class="tk it" x="31.3" y="39.3" text-anchor="middle" style="font-size:17.6px">L</text>
<line x1="25.1" y1="46.9" x2="37.9" y2="46.9" stroke="#000" stroke-width="1.6"/>
<text class="tk it" x="31.3" y="72" text-anchor="middle" style="font-size:17.6px">R</text>
<text transform="translate(308.50,20) scale(1.2,0.94)" x="0" y="0" class="it" style="font-size:21.4px;font-weight:bold">χ</text>
<text y="20" style="font-size:21.4px;font-weight:bold"><tspan x="322.8" dy="2.5">=</tspan><tspan x="335.6" dy="-2.5">0.7799</tspan></text>
<line x1="788.9" y1="215.00" x2="822.9" y2="215.00" stroke="#0000ff" stroke-width="3.0"/>
<text class="lg" x="837" y="222.50"><tspan class="it">κ</tspan><tspan dx="0.30" dy="-9.7" style="font-size:15.5px">2</tspan><tspan dx="1.70" dy="11.0">=</tspan><tspan dx="0.90" dy="-1.3">12</tspan></text>
<line x1="788.9" y1="256.45" x2="822.9" y2="256.45" stroke="#000000" stroke-width="3.0"/>
<text class="lg" x="837" y="263.95"><tspan class="it">κ</tspan><tspan dx="0.30" dy="-9.7" style="font-size:15.5px">2</tspan><tspan dx="1.70" dy="11.0">=</tspan><tspan dx="0.90" dy="-1.3">10</tspan></text>
<line x1="788.9" y1="297.90" x2="822.9" y2="297.90" stroke="#ff0000" stroke-width="3.0"/>
<text class="lg" x="837" y="305.40"><tspan class="it">κ</tspan><tspan dx="0.30" dy="-9.7" style="font-size:15.5px">2</tspan><tspan dx="1.70" dy="11.0">=</tspan><tspan dx="0.90" dy="-1.3">8</tspan></text>
<line x1="788.9" y1="339.35" x2="822.9" y2="339.35" stroke="#800080" stroke-width="3.0"/>
<text class="lg" x="837" y="346.85"><tspan class="it">κ</tspan><tspan dx="0.30" dy="-9.7" style="font-size:15.5px">2</tspan><tspan dx="1.70" dy="11.0">=</tspan><tspan dx="0.90" dy="-1.3">5</tspan></text>
<line x1="788.9" y1="380.80" x2="822.9" y2="380.80" stroke="#00ff00" stroke-width="3.0"/>
<text class="lg" x="837" y="388.30"><tspan class="it">κ</tspan><tspan dx="0.30" dy="-9.7" style="font-size:15.5px">2</tspan><tspan dx="1.70" dy="11.0">=</tspan><tspan dx="0.90" dy="-1.3">3</tspan></text>
<line x1="788.9" y1="422.25" x2="822.9" y2="422.25" stroke="#aa0000" stroke-width="3.0"/>
<text class="lg" x="837" y="429.75"><tspan class="it">κ</tspan><tspan dx="0.30" dy="-9.7" style="font-size:15.5px">2</tspan><tspan dx="1.70" dy="11.0">=</tspan><tspan dx="0.90" dy="-1.3">2</tspan></text>
<line x1="788.9" y1="463.70" x2="822.9" y2="463.70" stroke="#ff8000" stroke-width="3.0"/>
<text class="lg" x="837" y="471.20"><tspan class="it">κ</tspan><tspan dx="0.30" dy="-9.7" style="font-size:15.5px">2</tspan><tspan dx="1.70" dy="11.0">=</tspan><tspan dx="0.90" dy="-1.3">1</tspan></text>
<line x1="788.9" y1="505.15" x2="822.9" y2="505.15" stroke="#ff00ff" stroke-width="3.0"/>
<text class="lg" x="837" y="512.65"><tspan class="it">κ</tspan><tspan dx="0.30" dy="-9.7" style="font-size:15.5px">2</tspan><tspan dx="1.70" dy="11.0">=</tspan><tspan dx="0.90" dy="-1.3">0.5</tspan></text>
<line x1="788.9" y1="546.60" x2="822.9" y2="546.60" stroke="#00ffff" stroke-width="3.0"/>
<text class="lg" x="837" y="554.10"><tspan class="it">κ</tspan><tspan dx="0.30" dy="-9.7" style="font-size:15.5px">2</tspan><tspan dx="1.70" dy="11.0">=</tspan><tspan dx="0.90" dy="-1.3">0.1</tspan></text>
</g>
</svg></body></html>
